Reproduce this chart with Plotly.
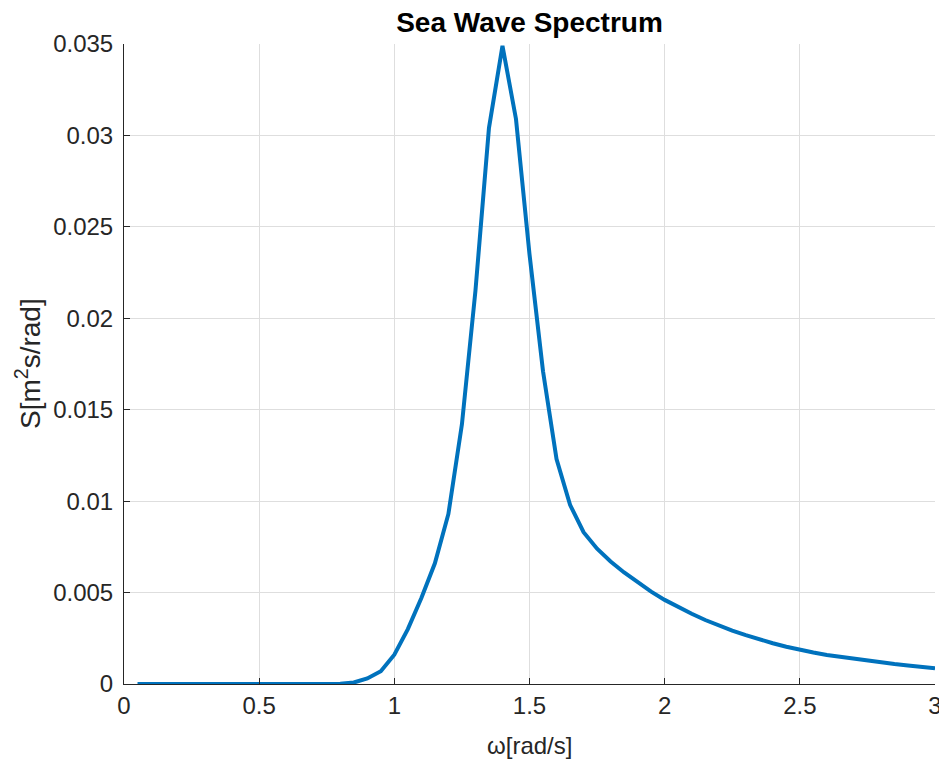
import plotly.graph_objects as go

omega = [0.05, 0.10, 0.15, 0.20, 0.25, 0.30, 0.35, 0.40, 0.45, 0.50,
         0.55, 0.60, 0.65, 0.70, 0.75, 0.80, 0.85, 0.90, 0.95, 1.00,
         1.05, 1.10, 1.15, 1.20, 1.25, 1.30, 1.35, 1.40, 1.45, 1.50,
         1.55, 1.60, 1.65, 1.70, 1.75, 1.80, 1.85, 1.90, 1.95, 2.00,
         2.05, 2.10, 2.15, 2.20, 2.25, 2.30, 2.35, 2.40, 2.45, 2.50,
         2.55, 2.60, 2.65, 2.70, 2.75, 2.80, 2.85, 2.90, 2.95, 3.00]

spectrum = [0, 0, 0, 0, 0, 0, 0, 0, 0, 0,
            0, 0, 0, 0, 0, 0.00001, 0.00008, 0.0003, 0.0007, 0.0016,
            0.0030, 0.0047, 0.0066, 0.0093, 0.0142, 0.0215, 0.0304, 0.0349, 0.0309, 0.0235,
            0.0171, 0.0123, 0.0098, 0.0083, 0.0074, 0.0067, 0.0061, 0.00555, 0.00505, 0.0046,
            0.0042, 0.00384, 0.0035, 0.0032, 0.00292, 0.00267, 0.00244, 0.00223, 0.00204, 0.00186,
            0.00172, 0.00159, 0.00148, 0.00137, 0.00127, 0.00117, 0.00109, 0.00101, 0.00093, 0.00086]

x_ticks = [0, 0.5, 1, 1.5, 2, 2.5, 3]
x_tick_labels = ["0", "0.5", "1", "1.5", "2", "2.5", "3"]
y_ticks = [0, 0.005, 0.01, 0.015, 0.02, 0.025, 0.03, 0.035]
y_tick_labels = ["0", "0.005", "0.01", "0.015", "0.02", "0.025", "0.03", "0.035"]

FONT = "Liberation Sans, Arial, Helvetica, sans-serif"
AX = "#262626"
GRID = "#dedede"

fig = go.Figure()
fig.add_trace(go.Scatter(x=omega, y=spectrum, mode="lines",
                         line=dict(color="#0072BD", width=4),
                         showlegend=False))

fig.update_layout(
    width=939, height=762,
    margin=dict(l=124, r=4, t=44, b=78, autoexpand=False),
    paper_bgcolor="white", plot_bgcolor="white",
    font=dict(family=FONT, color=AX),
    title=dict(text="<b>Sea Wave Spectrum</b>", x=0.5, xref="paper",
               y=1 - 22 / 762, yref="container", xanchor="center", yanchor="middle",
               font=dict(size=28, color="#000000", family=FONT)),
)

fig.update_xaxes(range=[0, 3], tickvals=x_ticks, ticktext=x_tick_labels,
                 automargin=False,
                 showgrid=True, gridcolor=GRID, gridwidth=1,
                 showline=True, linecolor=AX, linewidth=1,
                 ticks="inside", ticklen=6, tickcolor=AX,
                 ticklabeloverflow="allow",
                 tickfont=dict(size=24, color=AX), zeroline=False)
fig.update_yaxes(range=[0, 0.035], tickvals=y_ticks, ticktext=y_tick_labels,
                 automargin=False,
                 showgrid=True, gridcolor=GRID, gridwidth=1,
                 showline=True, linecolor=AX, linewidth=1,
                 ticks="inside", ticklen=6, tickcolor=AX,
                 ticklabelstandoff=5, ticklabeloverflow="allow",
                 tickfont=dict(size=24, color=AX), zeroline=False)

fig.add_annotation(text="ω[rad/s]", xref="paper", yref="paper", x=0.5, y=0,
                   yshift=-61, xanchor="center", yanchor="middle", showarrow=False,
                   font=dict(size=24, color=AX, family=FONT))
fig.add_annotation(text="S[m<sup>2</sup>s/rad]", xref="paper", yref="paper", x=0, y=0.5,
                   xshift=-96, xanchor="center", yanchor="middle", textangle=-90,
                   showarrow=False, font=dict(size=28, color=AX, family=FONT))

fig.write_html("out.html", config={"displayModeBar": False},
               post_script="document.body.style.margin='0';document.body.style.padding='0';")
